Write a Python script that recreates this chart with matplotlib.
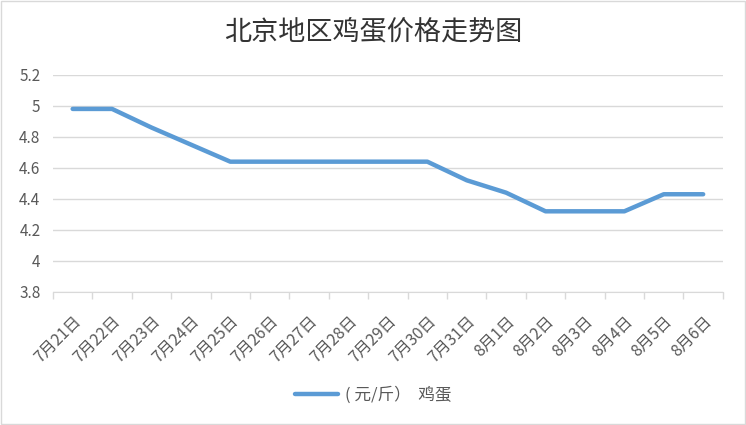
import matplotlib.pyplot as plt
import numpy as np

plt.rcParams['font.family'] = ['Noto Sans CJK SC', 'DejaVu Sans']

dates = ['7月21日', '7月22日', '7月23日', '7月24日', '7月25日', '7月26日', '7月27日',
         '7月28日', '7月29日', '7月30日', '7月31日', '8月1日', '8月2日', '8月3日',
         '8月4日', '8月5日', '8月6日']
prices = [4.98, 4.98, 4.86, 4.75, 4.64, 4.64, 4.64, 4.64, 4.64, 4.64,
          4.52, 4.44, 4.32, 4.32, 4.32, 4.43, 4.43]
yticks = [3.8, 4, 4.2, 4.4, 4.6, 4.8, 5, 5.2]
ytick_labels = ['3.8', '4', '4.2', '4.4', '4.6', '4.8', '5', '5.2']

fig = plt.figure(figsize=(7.46, 4.25), dpi=100)
ax = fig.add_axes([0.071, 0.313, 0.898, 0.511])

x = np.arange(len(dates))
line, = ax.plot(x, prices, color='#5B9BD5', linewidth=3.2, solid_capstyle='round',
                label='( 元/斤）  鸡蛋')

ax.set_xlim(-0.5, len(dates) - 0.5)
ax.set_ylim(3.8, 5.2)
ax.set_yticks(yticks)
ax.set_yticklabels(ytick_labels)
ax.grid(axis='y', color='#D9D9D9', linewidth=1)
ax.set_axisbelow(True)

ax.set_xticks(x)
ax.set_xticklabels(dates, rotation=45, ha='right', rotation_mode='anchor')
ax.set_xticks(np.arange(-0.5, len(dates)), minor=True)
ax.tick_params(axis='x', which='major', length=0, pad=15, labelsize=11.5, colors='#595959')
ax.tick_params(axis='x', which='minor', length=5, color='#D9D9D9', width=1)
ax.tick_params(axis='y', length=0, labelsize=11, colors='#595959', pad=9)

for s in ['top', 'right', 'left']:
    ax.spines[s].set_visible(False)
ax.spines['bottom'].set_color('#D9D9D9')

fig.text(0.5, 0.925, '北京地区鸡蛋价格走势图', ha='center', va='center',
         fontsize=19.5, color='#333333')

fig.legend(handles=[line], loc='center', bbox_to_anchor=(0.5, 0.07), frameon=False,
           fontsize=12, labelcolor='#595959', handlelength=2.6, handletextpad=0.4)

border = plt.Rectangle((0.002, 0.002), 0.996, 0.996, transform=fig.transFigure,
                       fill=False, edgecolor='#D9D9D9', linewidth=1)
fig.patches.append(border)

fig.savefig('out.png', dpi=100)
